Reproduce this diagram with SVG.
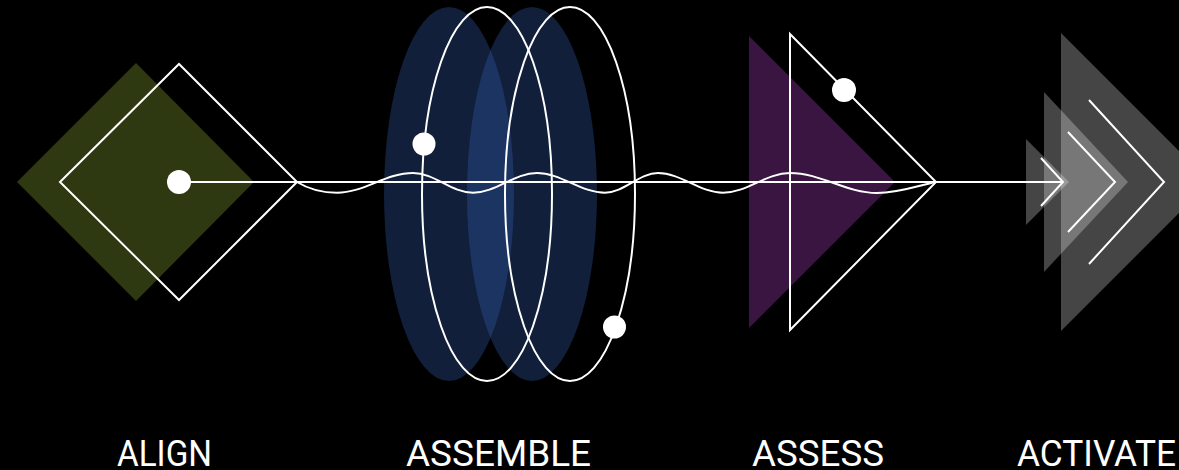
<svg xmlns="http://www.w3.org/2000/svg" width="1179" height="470" viewBox="0 0 1179 470">
<style>
.ol{fill:none;stroke:#fff;stroke-width:2;stroke-linejoin:miter}
.dot{fill:#fff}
.blue{fill:#3967c1;fill-opacity:0.3}
.gray{fill:#fff;fill-opacity:0.27}
.lbl{font-family:Roboto,"Liberation Sans",sans-serif;font-size:36px;fill:#fff}
</style>
<rect width="1179" height="470" fill="#000"/>
<g id="align">
<polygon points="17,182 136,63 254,182 136,301" fill="#2e3811"/>
<polygon class="ol" points="60,182 179,64 297,182 179,300"/>
<text class="lbl" x="117" y="466" textLength="95" lengthAdjust="spacingAndGlyphs">ALIGN</text>
</g>
<g id="assemble">
<ellipse class="blue" cx="449" cy="194" rx="65" ry="187"/>
<ellipse class="blue" cx="532" cy="194" rx="65" ry="187"/>
<ellipse class="ol" cx="487" cy="194" rx="65" ry="187"/>
<ellipse class="ol" cx="570" cy="194" rx="65" ry="187"/>
<text class="lbl" x="406" y="466" textLength="185" lengthAdjust="spacingAndGlyphs">ASSEMBLE</text>
</g>
<g id="assess">
<polygon points="749,36 895,182 749,328" fill="#3a1542"/>
<polygon class="ol" points="790,34 936,182 790,330"/>
<text class="lbl" x="752" y="466" textLength="132" lengthAdjust="spacingAndGlyphs">ASSESS</text>
</g>
<g id="activate">
<polygon class="gray" points="1026,139 1069,182 1026,225"/>
<polygon class="gray" points="1044,92 1128,182 1044,272"/>
<polygon class="gray" points="1061,33 1210,182 1061,331"/>
<polyline class="ol" points="1041,158 1063,182 1041,206"/>
<polyline class="ol" points="1068,132 1115,182 1068,232"/>
<polyline class="ol" points="1089,100 1164,182 1089,264"/>
<text class="lbl" x="1017" y="466" textLength="159" lengthAdjust="spacingAndGlyphs">ACTIVATE</text>
</g>
<g id="connectors">
<line class="ol" x1="179" y1="182" x2="1063" y2="182"/>
<path class="ol" d="M297,182 C310,190 322,192.7 337,192.7 C364,192.7 386,173 413,173 C435,173 451,192.7 473,192.7 C496,192.7 514,173 537,173 C561,173 581,192.7 605,192.7 C624,192.7 639,173 658,173 C681,173 700,192.7 723,192.7 C747,192.7 766,173 790,173 C821,173 846,193 877,193 C900,193 920,185 936,182"/>
</g>
<g id="dots">
<circle class="dot" cx="179" cy="182" r="12"/>
<circle class="dot" cx="424" cy="144" r="11.5"/>
<circle class="dot" cx="614.5" cy="327" r="11.5"/>
<circle class="dot" cx="844" cy="90" r="12"/>
</g>
</svg>
